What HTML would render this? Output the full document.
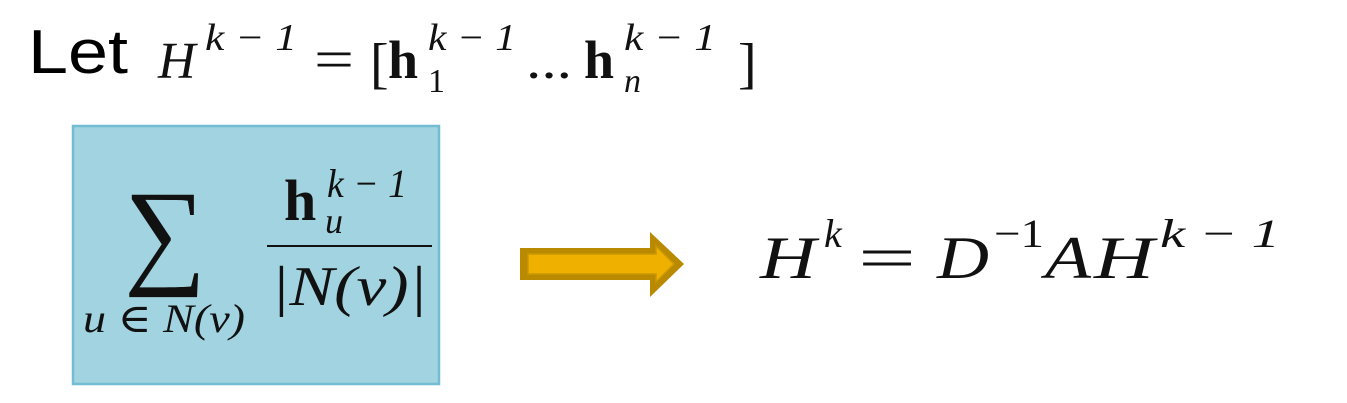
<!DOCTYPE html>
<html><head><meta charset="utf-8"><style>
html,body{margin:0;padding:0;background:#fff;width:1347px;height:403px;overflow:hidden}
svg{display:block}
.m{font-family:"Liberation Serif","DejaVu Serif",serif;font-style:italic;fill:#111}
.r{font-family:"Liberation Serif","DejaVu Serif",serif;fill:#111}
.b{font-family:"Liberation Serif","DejaVu Serif",serif;font-weight:bold;fill:#111}
</style></head><body>
<svg width="1347" height="403" viewBox="0 0 1347 403">
<g>
<text x="28" y="73" font-family="Liberation Sans, sans-serif" font-size="62" fill="#000" textLength="100" lengthAdjust="spacingAndGlyphs">Let</text>
<text class="m" x="158" y="78" font-size="52">H</text>
<text class="m" x="205" y="50" font-size="38" textLength="92" lengthAdjust="spacingAndGlyphs">k − 1</text>
<text class="r" x="314" y="78" font-size="56" textLength="40" lengthAdjust="spacingAndGlyphs">=</text>
<text class="r" x="370" y="82" font-size="56">[</text>
<text class="b" x="388" y="78" font-size="54">h</text>
<text class="m" x="428" y="50" font-size="38" textLength="88" lengthAdjust="spacingAndGlyphs">k − 1</text>
<text class="r" x="428" y="92" font-size="34">1</text>
<text class="r" x="526" y="78" font-size="52" textLength="46" lengthAdjust="spacingAndGlyphs">...</text>
<text class="b" x="584" y="78" font-size="54">h</text>
<text class="m" x="624" y="50" font-size="38" textLength="92" lengthAdjust="spacingAndGlyphs">k − 1</text>
<text class="m" x="624" y="92" font-size="34">n</text>
<text class="r" x="738" y="82" font-size="56">]</text>
</g>
<rect x="73" y="126" width="366" height="258" fill="#a2d3e0" stroke="#72bdd2" stroke-width="2.5"/>
<g>
<text class="r" x="124" y="272" font-size="118" textLength="82" lengthAdjust="spacingAndGlyphs">∑</text>
<text class="m" x="83" y="332" font-size="40" textLength="162" lengthAdjust="spacingAndGlyphs">u ∈ N(v)</text>
<text class="b" x="284" y="220" font-size="58">h</text>
<text class="m" x="327" y="197" font-size="40" textLength="80" lengthAdjust="spacingAndGlyphs">k − 1</text>
<text class="m" x="325" y="233" font-size="36">u</text>
<line x1="267" y1="246" x2="432" y2="246" stroke="#111" stroke-width="2"/>
<text class="m" x="271" y="305" font-size="56" textLength="156" lengthAdjust="spacingAndGlyphs">|N(v)|</text>
</g>
<g>
<polygon points="520,248 650,248 650,232 684,264 650,297 650,280 520,280" fill="#b98a00"/>
<polygon points="528,254 656,254 656,246 674,264 656,282 656,274 528,274" fill="#f0b000" stroke="#c99700" stroke-width="1.5"/>
</g>
<g>
<text class="m" x="760" y="278" font-size="60" textLength="56" lengthAdjust="spacingAndGlyphs">H</text>
<text class="m" x="824" y="247" font-size="40">k</text>
<text class="r" x="858" y="278" font-size="60" textLength="58" lengthAdjust="spacingAndGlyphs">=</text>
<text class="m" x="937" y="278" font-size="60" textLength="52" lengthAdjust="spacingAndGlyphs">D</text>
<text class="r" x="994" y="247" font-size="40" textLength="50" lengthAdjust="spacingAndGlyphs">−1</text>
<text class="m" x="1045" y="278" font-size="60" textLength="46" lengthAdjust="spacingAndGlyphs">A</text>
<text class="m" x="1094" y="278" font-size="60" textLength="60" lengthAdjust="spacingAndGlyphs">H</text>
<text class="m" x="1160" y="247" font-size="40" textLength="120" lengthAdjust="spacingAndGlyphs">k − 1</text>
</g>
</svg>
</body></html>
